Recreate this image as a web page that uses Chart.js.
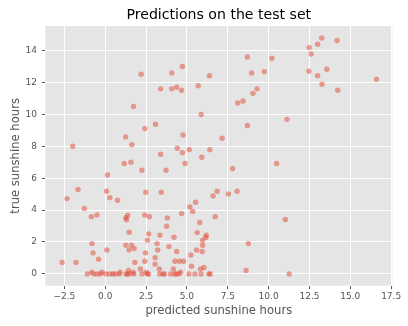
<!DOCTYPE html>
<html lang="en">
<head>
  <meta charset="UTF-8">
  <title>Predictions on the test set</title>
  <script src="https://cdn.jsdelivr.net/npm/chart.js"></script>
  <style>
    body {
      margin: 0;
      padding: 0;
      background: white;
    }
    .wrap {
      width: 408px;
      height: 326px;
    }
  </style>
</head>
<body>
  <div class="wrap">
    <canvas id="scatterCanvas" width="408" height="326"></canvas>
  </div>

  <script>
    // predicted vs. true sunshine hours
    const predicted = [
      13.25, 14.19, 12.48, 13.0, 12.6, 8.7, 10.2, 4.72, 4.07, 12.46,
      13.56, 9.74, 8.96, 2.2, 6.38, 13.0, 16.6, 13.27, 5.69, 4.37,
      3.39, 4.07, 4.67, 9.29, 9.04, 14.23, 8.43, 8.11, 1.73, 5.87,
      11.12, 8.7, 3.07, 2.42, 4.76, 1.24, 7.15, 1.63, -1.99, 4.41,
      6.4, 5.14, 4.72, 3.39, 5.91, 1.16, 1.57, 4.88, 10.49, 7.8,
      2.24, 3.72, 0.14, -1.67, 0.08, 6.85, 8.07, 2.48, 3.43, 7.54,
      -2.34, 0.28, 0.75, 6.6, 5.53, 5.18, 5.35, -1.28, 4.67, -0.85,
      -0.51, 1.38, 1.26, 1.3, 2.42, 2.7, 3.8, 6.73, 5.79, 3.76,
      11.02, 1.46, 5.63, 2.66, 3.35, 6.18, 6.16, 4.21, 2.58, 5.96,
      -0.81, 3.17, 8.76, 1.26, 1.61, 5.96, 3.9, 1.77, 1.46, 3.21,
      0.1, 5.59, 5.93, 4.37, -0.75, 2.46, 5.24, -0.41, 3.05, -2.64,
      -1.79, 1.81, 2.42, 4.27, 4.55, 4.8, 3.05, 5.28, 6.04, 5.83,
      2.15, 3.31, 4.17, 8.62, 1.42, -0.83, -0.2, 0.91, 1.71, 2.5,
      4.61
    ];
    const observed = [
      14.79, 14.63, 14.19, 14.4, 13.79, 13.6, 13.52, 13.0, 12.6, 12.7,
      12.83, 12.68, 12.6, 12.52, 12.43, 12.43, 12.2, 11.89, 11.8, 11.7,
      11.6, 11.6, 11.51, 11.6, 11.32, 11.51, 10.84, 10.72, 10.49, 9.99,
      9.69, 9.3, 9.38, 9.11, 8.71, 8.59, 8.5, 8.1, 8.0, 7.88,
      7.79, 7.79, 7.6, 7.5, 7.31, 6.92, 7.0, 6.92, 6.92, 6.6,
      6.5, 6.5, 6.2, 5.29, 5.18, 5.18, 5.18, 5.12, 5.12, 5.01,
      4.72, 4.78, 4.62, 4.89, 4.49, 4.2, 3.91, 4.1, 3.78, 3.59,
      3.7, 3.68, 3.53, 3.4, 3.7, 3.59, 3.51, 3.59, 3.22, 2.99,
      3.41, 2.61, 2.59, 2.51, 2.42, 2.42, 2.28, 2.3, 2.11, 2.11,
      1.9, 1.9, 1.9, 1.8, 1.8, 1.8, 1.71, 1.59, 1.5, 1.5,
      1.5, 1.5, 1.4, 1.4, 1.32, 1.32, 1.19, 0.92, 1.02, 0.71,
      0.71, 0.71, 0.79, 0.79, 0.79, 0.79, 0.61, 0.48, 0.4, 0.31,
      0.31, 0.31, 0.31, 0.21, 0.21, 0.1, 0.1, 0.1, 0.1, 0.1,
      0.1
    ];
    // days with no sunshine at all
    const predictedZero = [
      -1.1, -0.69, -0.49, -0.3, 0.04, 0.28, 0.47, 0.61, 0.85, 1.26,
      1.36, 1.48, 1.75, 2.24, 2.58, 2.64, 3.33, 3.54, 3.62, 4.0,
      4.25, 4.35, 4.51, 5.12, 5.49, 5.87, 6.34, 6.42, 11.26
    ];

    const xTicks = [-2.5, 0, 2.5, 5, 7.5, 10, 12.5, 15, 17.5];
    const yTicks = [0, 2, 4, 6, 8, 10, 12, 14];

    const points = predicted.map((x, i) => ({ x: x, y: observed[i] }))
      .concat(predictedZero.map(x => ({ x: x, y: 0 })));

    // grey panel behind the plot, ggplot style
    const panelBg = {
      id: 'panelBg',
      beforeDraw(chart) {
        const a = chart.chartArea;
        const ctx = chart.ctx;
        ctx.save();
        ctx.fillStyle = '#E5E5E5';
        ctx.fillRect(a.left, a.top, a.right - a.left, a.bottom - a.top);
        ctx.restore();
      }
    };

    function fmtX(v) {
      return (v < 0 ? '\u2212' : '') + Math.abs(v).toFixed(1);
    }

    const tickFont = { family: 'DejaVu Sans', size: 9 };
    const labelFont = { family: 'DejaVu Sans', size: 11.6 };

    new Chart(document.getElementById('scatterCanvas'), {
      type: 'scatter',
      data: {
        datasets: [{
          data: points,
          backgroundColor: 'rgba(226, 74, 51, 0.5)',
          borderWidth: 0,
          pointRadius: 2.7,
          pointHoverRadius: 2.7
        }]
      },
      plugins: [panelBg],
      options: {
        responsive: false,
        animation: false,
        layout: { padding: { left: 0, right: 15.7, top: 0, bottom: 0 } },
        plugins: {
          legend: { display: false },
          tooltip: { enabled: false },
          title: {
            display: true,
            fullSize: false,
            text: 'Predictions on the test set',
            color: '#000',
            font: { family: 'DejaVu Sans', size: 14.1, weight: 'normal' },
            padding: { top: 6.55, bottom: 2.55 }
          }
        },
        scales: {
          x: {
            type: 'linear',
            min: -3.67,
            max: 17.57,
            afterBuildTicks: s => { s.ticks = xTicks.map(v => ({ value: v })); },
            afterFit: s => { s.height = 40.3; },
            border: { display: false },
            grid: {
              color: '#FFFFFF',
              lineWidth: 1,
              tickColor: '#555555',
              tickLength: 3.5,
              tickWidth: 1
            },
            ticks: {
              color: '#555555',
              font: tickFont,
              padding: 2.1,
              maxRotation: 0,
              autoSkip: false,
              callback: v => fmtX(v)
            },
            title: {
              display: true,
              text: 'predicted sunshine hours',
              color: '#555555',
              font: labelFont,
              padding: { top: 0, bottom: 8.0 }
            }
          },
          y: {
            type: 'linear',
            min: -0.74,
            max: 15.54,
            afterBuildTicks: s => { s.ticks = yTicks.map(v => ({ value: v })); },
            afterFit: s => { s.width = 45.3; },
            border: { display: false },
            grid: {
              color: '#FFFFFF',
              lineWidth: 1,
              tickColor: '#555555',
              tickLength: 3.5,
              tickWidth: 1
            },
            ticks: {
              color: '#555555',
              font: tickFont,
              padding: 4.8,
              autoSkip: false,
              callback: v => String(v)
            },
            title: {
              display: true,
              text: 'true sunshine hours',
              color: '#555555',
              font: labelFont,
              padding: { top: 9.0, bottom: 0 }
            }
          }
        }
      }
    });
  </script>
</body>
</html>
